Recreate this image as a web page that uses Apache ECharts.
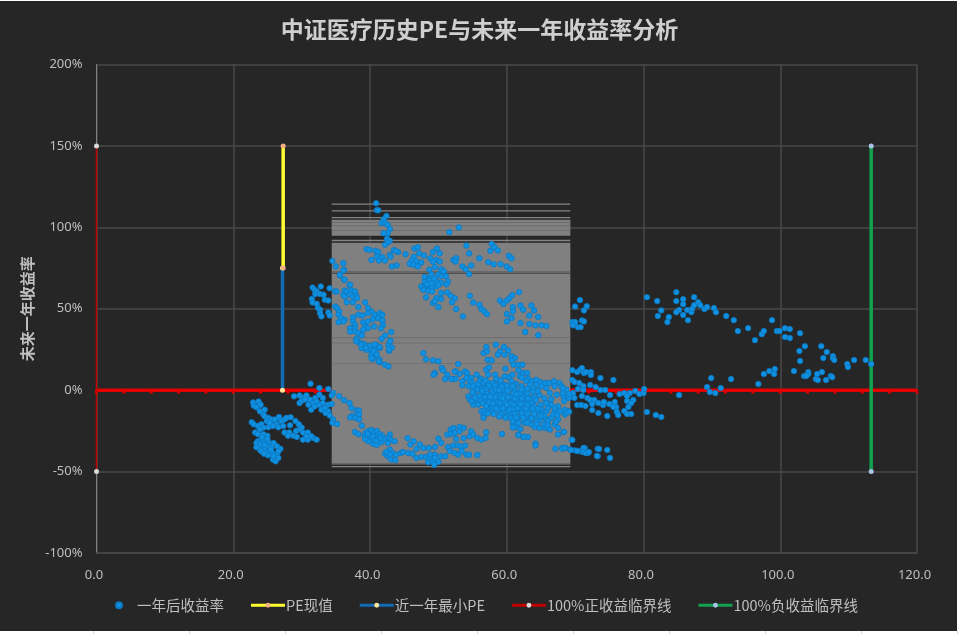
<!DOCTYPE html>
<html><head><meta charset="utf-8">
<style>
html,body{margin:0;padding:0;width:959px;height:634px;overflow:hidden;background:#fff}
#bg{position:absolute;left:0;top:1px;width:957px;height:630px;background:#262626}
#cells{position:absolute;left:0;top:631px;width:959px;height:3px;background:repeating-linear-gradient(90deg,#fff 0,#fff 93px,#d4d4d4 93px,#d4d4d4 94px,#fff 94px,#fff 96px)}
#c{position:absolute;left:0;top:0;width:959px;height:634px}
</style>
<script src="https://cdn.jsdelivr.net/npm/echarts@6/dist/echarts.min.js"></script>
</head><body><div id="bg"></div><div id="cells"></div><div id="c"></div>
<script>
const title='中证医疗历史PE与未来一年收益率分析';
const yName='未来一年收益率';
const names=['一年后收益率','PE现值','近一年最小PE','100%正收益临界线','100%负收益临界线'];
const peLeft=[[22.9,-7.5],[23,-9.5],[23.7,-7],[24,-9],[23.4,-10.5],[23.9,-13],[24.6,-12],[24.4,-15],[24.6,-16],[25.1,-17],[25.6,-18],[26.1,-18],[26.7,-16.5],[27,-19],[27.5,-18],[27.8,-17],[28.4,-16.7],[28.3,-21.6],[27.3,-22],[26.3,-21],[25.6,-21],[25.1,-22.8],[26.6,-22.8],[25.8,-22],[24.9,-19],[25.3,-20],[22.7,-19.7],[23,-21],[23.6,-22],[24.1,-21],[24.4,-23],[23.9,-24],[23.2,-26],[23.6,-27],[24.4,-27],[25,-28],[23.6,-31.4],[23.4,-32.5],[23.9,-33.5],[24.4,-31.4],[24.9,-31],[25.3,-32.5],[25.9,-32.5],[23.9,-36.5],[23.4,-35],[24.5,-36],[25.1,-34.5],[25.6,-35],[26.4,-34.5],[26.9,-36],[24.1,-37.5],[24.9,-38],[25.1,-40],[25.7,-38.5],[26.4,-39.5],[25.8,-42.6],[26.2,-43.7],[26.6,-41.6],[24.6,-33.5],[24.2,-29],[25,-30],[25.5,-36.5],[24.5,-39],[26.6,-37.5],[25.9,-40.5],[27.5,-26],[28.2,-26],[28,-28],[28.8,-28],[29.3,-28.7],[30.2,-30.4],[30.9,-30.4],[31.7,-29.4],[32.2,-30.4],[29.2,-25],[29.7,-24],[29.1,-19],[29.6,-21],[30,-23],[30.2,-26],[30.9,-26],[30.7,-28.3],[31.4,-28.3]];
const peNear=[[31.3,4],[32.6,1.3],[33.9,.7],[34.6,-1.7],[28.9,-3.8],[29.7,-3.2],[30.2,-4.8],[30.7,-3.2],[31.2,-5.8],[32,-4.8],[32.6,-2.8],[33.1,-4.8],[34.4,-3.2],[29.7,-7.9],[30,-6.5],[30.5,-5.8],[31,-8.9],[31.7,-7.9],[32.2,-6.9],[32.6,-8.9],[33.1,-7.9],[33.9,-8.9],[34.4,-8.5],[31.4,-12],[31.9,-10],[32.9,-12],[33.4,-11],[33.9,-13],[34.1,-15.5],[33.5,-14],[34.6,-18],[34.5,-20],[35.2,-20.8],[31.6,63],[31.9,61.6],[32.2,60.6],[32.8,63.7],[32,59],[32.7,59],[33.2,58.6],[33.4,55.5],[33.9,55],[31.5,56],[31.6,53.9],[32.2,53],[32.4,50.4],[32.7,49.4],[32.7,47.3],[32.9,45.3],[33.9,47.7],[34.1,45.9],[34.1,62.6],[34.9,60.6]];
const peUpper=[[34.5,79.4],[35,76],[36.1,78],[36.2,74],[35.6,70.4],[36.2,67.8],[37,64.7],[35.6,70.8],[36.1,73.5],[36.3,67.8],[37.1,64.7],[36.3,61.2],[35.1,60.6],[36.1,58.6],[36.6,60.6],[37.3,61.2],[37.1,58.6],[37.8,60.6],[37.5,57.5],[38,58],[36.3,57.5],[38.1,56.5],[36.6,54],[37.5,54],[38.3,51],[39.3,53.9],[39.7,50.4],[40.2,48.3],[39.7,47.3],[40.7,46.3],[41.4,47.3],[41.8,46.3],[41.2,44.2],[41.8,42.8],[40.4,43.6],[41.9,40],[41.6,38],[43.1,35.7],[42.2,33.6],[41.7,31.6],[43,30.5],[42.7,27.5],[43.2,26.2],[42.8,24.2],[34.9,51.4],[35.2,50.4],[35.5,48.3],[35.4,46.3],[35.8,44.2],[36.3,43.2],[35.4,41.8],[36.1,42.2],[37.5,44.7],[38.3,46.3],[38.9,45.9],[37.5,42.2],[37.8,40.2],[37.1,38.1],[37.8,38.1],[37.1,36],[37.8,36],[38.3,35],[39,41.6],[39.7,42.2],[39.3,39.1],[39.7,38.1],[40.6,39.1],[39,37],[38.8,33.6],[38,31.4],[38.4,29.3],[39.1,28.5],[38.8,25.8],[39.4,27.3],[40,27.3],[40.1,24.8],[40.9,27.9],[41.4,25.8],[40.7,24.8],[40.2,21.8],[40.9,21.3],[40.4,19],[41.4,18.7],[41.4,17.2],[42.2,15.6],[42.7,14.6],[39.5,24.8],[38,30],[38.7,28],[39.4,26],[40.7,28],[41.4,26.5],[42.9,30],[42.8,25],[40.5,24],[41,21.8],[40.2,19.7],[41.3,17.7]];
const peTop=[[40.9,114.8],[41,110.5],[41.2,110.5],[42.4,107],[42,105],[41.7,102.6],[42.2,102.6],[42.6,101.5],[42.9,98.9],[42.6,96.4],[42,96.4],[42.5,93],[42.9,91.7],[42.6,90.7],[42.2,89.3],[39.5,86.6],[39.9,86.2],[40.8,85.6],[41.2,84.8],[40.2,80],[41,82],[41.3,79.6],[41.8,81.7],[42.2,79.6],[42.9,83],[43,82],[43.5,86],[44.1,84.8],[43.8,85.5],[45.2,83.5],[46.5,87],[47,87.8],[47.2,84],[47.9,82.7],[46.4,82],[46.1,79.6],[46.8,79],[47.5,78.4],[45.8,77.6],[46.3,77],[47,76],[43.2,76],[43.9,76.6],[48.8,81],[49.8,87],[49.2,84.8],[50.2,84],[49.7,80],[50.2,79],[49.2,79],[48.7,74],[49.5,75.6],[50.4,74.3],[50.8,73],[49,71],[50,71],[51.1,70],[50.4,70],[48.3,68.8],[48,66.8],[48.7,67.8],[49.7,66.8],[50.4,66],[51.4,66.8],[51.2,65],[47.5,63.7],[48,62.7],[48.5,64.7],[49,62.7],[49.7,63.7],[47.8,61.6],[48.5,61],[49.1,60.6],[49,65.7],[48,69.5],[49.4,68.5],[50,64.5],[48.3,65],[51.6,97],[53,99.9],[54.1,88.8],[54.5,84],[52.2,80],[52.6,81],[52.5,79],[56,81],[53.5,76],[54,74.3],[54.8,76.6],[54.5,71.3],[57.8,89.7],[57.6,85.6],[58.2,87.8],[58.7,85.8],[57.3,78.6],[58.1,77.4],[59.1,77.4],[60,76],[60.5,74.3],[60.3,82.5],[60.7,81],[51.3,60],[51.8,58],[52.4,56.5],[50.4,59.6],[50.4,56],[49.7,56.5],[48.2,57],[49.2,53.5],[49.5,54.5],[50,51],[52,54],[52.6,49.8],[53.6,45.3],[54.6,58],[55.1,53.9],[56,52.4],[56.3,49.8],[56.7,48.4],[57.1,46.7],[59,55],[59.5,53],[60,55],[60.4,56.5],[60.8,58.4],[61.8,60.2],[60.9,51],[60.9,48.4],[60,46.7],[60.7,44.3],[60,42.2],[62,52],[62.4,49.4],[63.3,45.9],[63.6,52],[64,49],[64.6,45],[62,41.2],[63.3,40.6],[64.2,39.8],[65.1,39.8],[65.8,39.4],[62.7,35.7],[64.6,33.8],[70.7,55.3],[70,51.4],[71.7,51.6],[71.3,49],[69.6,41.8],[70,41.8],[69.7,39.8],[70.4,38.7],[70.8,38.7],[71,42.8],[71.3,42.2]];
const peArc=[[35.5,-3.8],[36.2,-6.2],[37,-7.9],[37.3,-11],[38.1,-12.4],[38.4,-12.6],[37.5,-15.6],[37.1,-16.7],[37.8,-17],[38.4,-15],[38.4,-18],[38.8,-21.8],[37.8,-25.7],[38.3,-27],[39.2,-28],[39.4,-26],[39.6,-29],[39.8,-25],[40,-27],[40.2,-24.5],[40,-30],[40.3,-31],[40.6,-26],[40.8,-28.5],[41,-25],[41.2,-30],[41.4,-27],[41.6,-32],[41.8,-28],[42.1,-30],[40.5,-33],[39.8,-31.5],[39.3,-30],[41,-33.5],[40.4,-28.5],[39.7,-27],[41.5,-29.5],[40.9,-31],[42.9,-27.3],[42.7,-29.3],[43,-30.4],[43.6,-31.4],[42.6,-32.4],[42.9,-36.5],[42.2,-39],[42.6,-40.6],[43.3,-38.6],[43.8,-39.6],[43.1,-42.6],[43.7,-43],[42.4,-38],[42.9,-39.5],[44.5,-38.6],[44.8,-38],[45.6,-38.6],[46.2,-39],[46.8,-41.6],[47.5,-41],[48.2,-41],[48.8,-39.6],[49.5,-39.6],[48.7,-42.6],[49.2,-43.7],[48.5,-44.3],[49.4,-45.9],[50,-44],[50.4,-40.6],[51,-40.6],[49.5,-41.5],[47.3,-33.4],[47.8,-35.5],[46.8,-36],[48.6,-35.5],[49.5,-34.9],[50,-29.8],[50.4,-32.4],[51.4,-35],[52.2,-34],[52.9,-34],[53.4,-35],[53.9,-34],[51.7,-37.5],[52.4,-38.6],[52.9,-39.6],[53.4,-37.5],[54.1,-39.6],[54.5,-39.6],[55.7,-39.8],[45.5,-29.5],[45.9,-33.4],[46.4,-31.4],[51.3,-27.3],[51.8,-24.2],[52.2,-23.2],[53.1,-22.6],[53.7,-23.2],[51.8,-27],[52.4,-26.3],[52.6,-30],[53.1,-25.3],[53.7,-29.4],[54.8,-25.3],[54.6,-28.3],[55.1,-27.3],[55.7,-29.4],[56.3,-30.4],[57,-25.9],[56.9,-29.4],[59.3,-26.9],[61.7,-27.3],[62.4,-28.7],[63.1,-28.7],[64.2,-32.8],[64.2,-34],[67.1,-36],[68.1,-35.5],[68.6,-35.5],[69.5,-30.4],[69.3,-36.5],[70,-37],[70.7,-37.5],[71.4,-35.5],[71.2,-38],[71.9,-38.6],[73.3,-40.6],[73.3,-36]];
const peDense=[[57,26.5],[56.6,22.8],[57.1,23.8],[58.4,27.9],[59.6,26.5],[59,23.8],[58.7,21.8],[59.7,21.8],[60.2,24.4],[60.7,20.8],[61.2,19.7],[60.7,18.3],[57.2,18.7],[57.8,18.3],[61.7,15.6],[61,15.6],[62.3,15.6],[57,12.6],[57.4,14],[59.8,13.2],[61.7,12.2],[62.4,10.5],[63,10.5],[61.9,8.5],[63.1,7],[63.6,5.4],[64.3,6.4],[64.9,5],[65.6,4.4],[66.2,4.4],[66.9,5.4],[67.7,4.4],[60.2,7.9],[59.7,8.5],[52.9,16],[52.5,11.5],[53.1,10],[53.9,11.5],[54.2,10.5],[55.6,9.5],[57.3,9.5],[58.3,9.5],[56.2,7],[54.1,7.5],[54.8,7.5],[52.1,6.9],[52.5,6.9],[53.5,5.4],[54.6,5.4],[55,4.4],[53.5,3],[54.4,2.4],[55.1,2.4],[56,5.4],[56.6,4.4],[57.3,4.4],[58,4.4],[59,4.4],[59.7,3.4],[60.7,5.4],[61.4,3.8],[62.2,2.4],[63.4,3.4],[56.1,1.3],[56.8,1.3],[57.8,1.3],[58.7,1.3],[59.5,.3],[60.5,1.3],[61.2,.3],[61.7,-1.3],[62.6,-.7],[64.4,3.4],[65.1,2.4],[65.8,1.3],[67,2.4],[68,2.4],[68.7,.3],[66.3,-1.7],[67.3,-2.8],[68.3,-3.8],[69.2,-3.8],[54.4,-3.8],[55.3,-2.8],[54.6,-5.8],[55.6,-5.8],[56.6,-2.8],[57.5,-2.8],[58.5,-2.8],[59.7,-2.8],[60.7,-3.8],[61.7,-3.8],[62.6,-3.8],[63.6,-4.8],[64.1,-4.2],[57.1,-5.8],[58,-5.8],[59,-5.8],[60,-5.8],[60.9,-6.9],[61.9,-6.9],[62.9,-6.9],[63.6,-7.9],[55.1,-8.9],[55.8,-8.9],[57.5,-8.9],[58.5,-8.9],[59.5,-8.9],[60.5,-9.9],[61.4,-9.9],[62.4,-9.9],[65,-8.9],[65.8,-7.9],[66.5,-8.9],[67.5,-9.9],[68.5,-12],[69.1,-13],[56.3,-13],[56.6,-15],[56.6,-17],[56.8,-12.4],[57.8,-13],[58.3,-12],[59,-13],[59.7,-13],[60.7,-14],[61.7,-13],[62.6,-13],[63.4,-12],[64.4,-13],[65.1,-14],[65.8,-13],[67,-13],[67.8,-13],[68.5,-15],[59.2,-15],[60.2,-16],[61.2,-16],[62.2,-16],[63.1,-16],[64.1,-16],[65.6,-17],[66.5,-17],[67.5,-18],[60.9,-21],[61.4,-22.6],[60.9,-23],[62,-23.8],[62.6,-20],[63.6,-21],[64.1,-22.6],[64.8,-23.2],[65.6,-23.2],[66.3,-24.2],[67.5,-27.3],[68.3,-25.7],[67,-21],[67.5,-23.2],[61.7,-27.7],[62.5,-28.7],[47.8,22.8],[48.2,19],[49.2,18.3],[50,17.7],[50.5,13.6],[50.7,12.2],[49.5,10.5],[49.3,9.5],[51.3,9.5],[51,6.8],[51.9,6.8],[52.4,11.5],[58,-1],[59,-1.5],[60,-1],[61,-1.8],[62,-2],[63,-2],[57,-1],[56,-3.5],[57.4,-7.5],[58.6,-7.3],[59.7,-7.2],[60.6,-8],[61.6,-8.3],[62.7,-8.5],[63.3,-10.5],[58,-10.5],[59,-10.6],[60,-11],[61,-11.5],[62,-11.6],[57.2,-11],[60.2,-13],[61.2,-14.5],[62.2,-14],[63,-14.5],[64,-14.5],[65,-11.5],[66,-11],[67,-11],[66.8,-15],[65.4,-15.5],[64.8,-18.5],[66,-19],[67.2,-19.5],[61.5,-18],[62.5,-18],[63.4,-18.5],[64.4,-19],[65.5,-21],[60.4,-12],[58.3,3],[60,2.8],[61,3.2],[57,.8],[55.7,.5],[55,-1],[64.8,-3],[65.5,-5],[66.5,-5.5],[64.5,-.5],[58.5,7],[60.8,9.5],[63.8,1.2],[62.8,5.8],[55.8,3.5],[56.4,-.6],[57.4,2.6],[58.4,.2],[59.3,2.2],[60.1,-.3],[60.9,2.4],[62.1,.4],[63,1],[63.8,-.8],[54.9,-6.8],[55.4,-4.6],[56.2,-6.2],[56.8,-4.3],[57.6,-4],[58.3,-4.4],[59.1,-3.9],[60.2,-4.4],[61.2,-5.2],[62.2,-5.2],[63.1,-5.3],[64.3,-6],[56.5,-8],[57,-9.8],[58,-8.2],[59,-8],[60,-9],[61,-8.8],[62,-8.6],[63,-9],[64,-9.8],[64.6,-11.2],[58.5,-11.3],[59.4,-11],[61.6,-11],[62.8,-11.5],[63.8,-11.2],[57.2,-14.3],[58.1,-14.7],[58.9,-16.2],[59.8,-17],[60.6,-17.3],[61.4,-16.8],[62.4,-17],[63.6,-17.2],[65,-16],[67.4,-15.4],[60.9,-19],[61.7,-20.3],[63,-20],[64.4,-20.8],[66,-21.6],[59.1,6],[56.9,6],[62.2,7.6],[58.9,-.1],[59.4,-5],[61.4,-2.6]];
const peRight=[[80.5,57.1],[82,54.7],[82.6,49],[82.1,45.5],[83.7,44.9],[83.5,41.8],[84.8,60.2],[84.8,54.7],[85.8,55.9],[85.8,52.8],[85.2,49.2],[84.8,47.9],[85.8,46.1],[86.5,43],[86.4,49.2],[87,47.9],[87.1,49.8],[87.4,57.1],[87.4,52.2],[88,54],[88.3,52.2],[88.9,49.8],[89.3,51],[90.3,50.4],[90.6,47.9],[92.1,45.5],[93.2,43],[93.8,36.3],[95.3,38.1],[96.3,30.7],[97.3,34.4],[97.6,36.3],[98.8,43],[99.5,36.3],[99.9,36.3],[100.7,38.1],[101.4,37.5],[100.7,32.6],[101.4,32],[102.9,35],[102.8,24],[103.6,27],[102.9,17.9],[102,11.7],[104.1,11.1],[104.1,9.9],[103.5,8.7],[103.8,8.7],[105.4,9.9],[106.1,11.1],[105.2,6.8],[105.5,6.2],[106.7,6.2],[107.4,8.7],[107.6,8],[106,27],[106.8,23.4],[106.3,19.7],[107.7,20.9],[107.7,19.7],[107.9,18.5],[109.8,16],[109.9,14.2],[110.8,18.5],[112.5,18.5],[113.3,16],[96.8,3.8],[97.6,9.9],[98.4,11.7],[99.1,9.9],[99.2,13],[89.9,7.4],[89.3,1.9],[89.7,-1.2],[90.5,-1.8],[91.3,1.3],[92.8,6.8],[85.2,-3]];
const peMid=[[69.6,12.3],[70.3,11.1],[70.7,12.3],[71,13.6],[71.3,10.5],[71.6,11.1],[72.3,11.1],[72.3,9.3],[73.7,7.4],[75.6,6.2],[69.6,6.2],[69.9,5],[70.6,4.4],[71.2,2.5],[72.2,3.2],[73,1.9],[73.7,.1],[74.4,.1],[75.1,-3],[76.5,-2.4],[77.2,-1.8],[78,-1.8],[78.8,-.5],[79.4,-2.4],[80,-1.8],[80.1,.7],[77.6,-3.6],[78.5,-6],[77.6,-6.7],[78.2,-7.9],[77.8,-10.3],[77.2,-12.8],[77.6,-14.6],[78.2,-14.6],[80.5,-13.4],[81.8,-15.3],[82.6,-16.5],[75.8,-7.3],[76,-10.3],[76.1,-13.4],[76.3,-15.3],[74.7,-15.9],[73.4,-14],[72.5,-12.2],[70.3,-9.1],[70.9,-9.1],[71.5,-9.7],[71.8,-4.8],[72.2,-6],[72.8,-6],[72.5,-8.5],[73.4,-7.9],[74.1,-9.1],[74.2,-7.3],[75,-8.5],[75.6,-10.3],[71,-3.6],[69.9,-4.8],[69.1,-4.8],[68.4,-6.7],[70.4,.7],[71.2,.1],[69.7,-1.8],[69.1,-2.4],[68.2,-1.8],[68.2,1.3],[68.7,-14],[69.1,-13.4],[69.6,-30.6],[68.4,-25.7],[68.1,-36],[68.5,-35.5],[69.4,-36.7],[70.3,-37.3],[71.2,-35.5],[71.2,-38],[71.6,-38.6],[72,-38],[73.5,-36.1],[74.7,-36.7],[73.2,-40.4],[75.1,-41.6]];
const peX=[27.3,27.3], peY=[75,150];
const minX=[27.2,27.2], minY=[0,75];
const posX=[0,0], posY=[150,-50];
const negX=[113.3,113.3], negY=[-50,150];
const zeroX=[0,4,8,12,16,20,24,28,32,36,40,44,48,52,56,60,64,68,72,76,80,84,88,92,96,100,104,108,112,116,120];
const bandX=[34.4,69.3];
const bandFills=[[104.6,94.8],[90.5,-45.7]];
const bandLight=[114.2,110.1,106,91.9,-46.9];
const bandDark=[72.5,71.7,-45.4];
const bandFaint=[103,101,98,32.2,29,16.3];
const allPoints=[].concat(peLeft,peNear,peUpper,peTop,peArc,peDense,peRight,peMid);
const pair=(xs,ys)=>xs.map((x,i)=>[x,ys[i]]);
const txt='#bfbfbf', cjk='"Noto Sans CJK SC","Noto Sans",sans-serif';
const chart=echarts.init(document.getElementById('c'),null,{renderer:'canvas'});
function lineSeries(name,xs,ys,color,width,dot,z){
  return {name,type:'line',data:pair(xs,ys),z,symbol:'circle',symbolSize:5,showSymbol:true,
    lineStyle:{color,width,cap:'butt'},itemStyle:{color:dot},emphasis:{disabled:true},animation:false};
}
chart.setOption({
  animation:false,backgroundColor:'transparent',
  title:{text:title,left:'center',top:13,textStyle:{color:'#cfcfcf',fontSize:23,fontWeight:'bold',fontFamily:cjk}},
  grid:{left:96.5,right:42,top:64.5,height:488.5,containLabel:false},
  legend:{left:110,top:593,itemGap:25.5,itemWidth:34,itemHeight:6,data:names,selectedMode:false,
    lineStyle:{width:3},
    textStyle:{color:txt,fontSize:14.5,fontFamily:cjk,padding:[0,0,0,-4]}},
  xAxis:{type:'value',min:0,max:120,interval:20,
    axisLine:{onZero:false,lineStyle:{color:'#484848',width:1.5}},axisTick:{show:false},
    axisLabel:{color:txt,fontSize:13,margin:16,padding:[0,5,0,0],fontFamily:'"Noto Sans",sans-serif',formatter:v=>v.toFixed(1)},
    splitLine:{lineStyle:{color:'#484848',width:1.5}}},
  yAxis:{type:'value',min:-100,max:200,interval:50,name:yName,nameLocation:'middle',nameGap:58,
    nameTextStyle:{color:txt,fontSize:15,fontWeight:'bold',fontFamily:cjk},
    axisLine:{show:true,onZero:false,lineStyle:{color:'#7f7f7f',width:1}},axisTick:{show:false},
    axisLabel:{color:txt,fontSize:13,margin:14,fontFamily:'"Noto Sans",sans-serif',formatter:v=>v+'%'},
    splitLine:{lineStyle:{color:'#484848',width:1.5}}},
  series:[
    {name:'零线',type:'line',data:zeroX.map(x=>[x,0]),z:2,symbol:'rect',symbolSize:[3,4],symbolOffset:[0,1.5],
      lineStyle:{color:'#e50000',width:3.5},itemStyle:{color:'#d80000'},animation:false},
    {name:'区间',type:'custom',z:3,silent:true,data:bandFills.map((b,i)=>[i]),clip:true,animation:false,
      renderItem:(p,api)=>{
        const kids=[];
        const rect=(t,b,fill)=>{const a=api.coord([bandX[0],t]),c=api.coord([bandX[1],b]);
          return {type:'rect',shape:{x:a[0],y:a[1],width:c[0]-a[0],height:c[1]-a[1]},style:{fill}};};
        if(p.dataIndex===0){
          bandLight.forEach(v=>{kids.push(rect(v+0.4,v-0.4,'#858585'));});
        }
        const f=bandFills[p.dataIndex];kids.push(rect(f[0],f[1],'#808080'));
        if(p.dataIndex===1){
          bandFaint.forEach(v=>{kids.push(rect(v+0.3,v-0.3,'#6e6e6e'));});
          bandDark.forEach(v=>{kids.push(rect(v+0.3,v-0.3,'#4f4f4f'));});
        }
        return {type:'group',children:kids};
      }},
    {name:names[0],type:'scatter',data:allPoints,z:6,symbol:'circle',symbolSize:5.5,
      itemStyle:{color:'#1090e0',borderColor:'#0b78c2',borderWidth:.8,opacity:1},animation:false},
    lineSeries(names[1],peX,peY,'#ffff33',3.5,'#f4b183',5),
    lineSeries(names[2],minX,minY,'#0f6cb5',3.5,'#ffe699',4),
    lineSeries(names[3],posX,posY,'#c00000',1.5,'#d9d9d9',4),
    lineSeries(names[4],negX,negY,'#11a24f',3.5,'#a9c4e6',4)
  ]
});
</script></body></html>
